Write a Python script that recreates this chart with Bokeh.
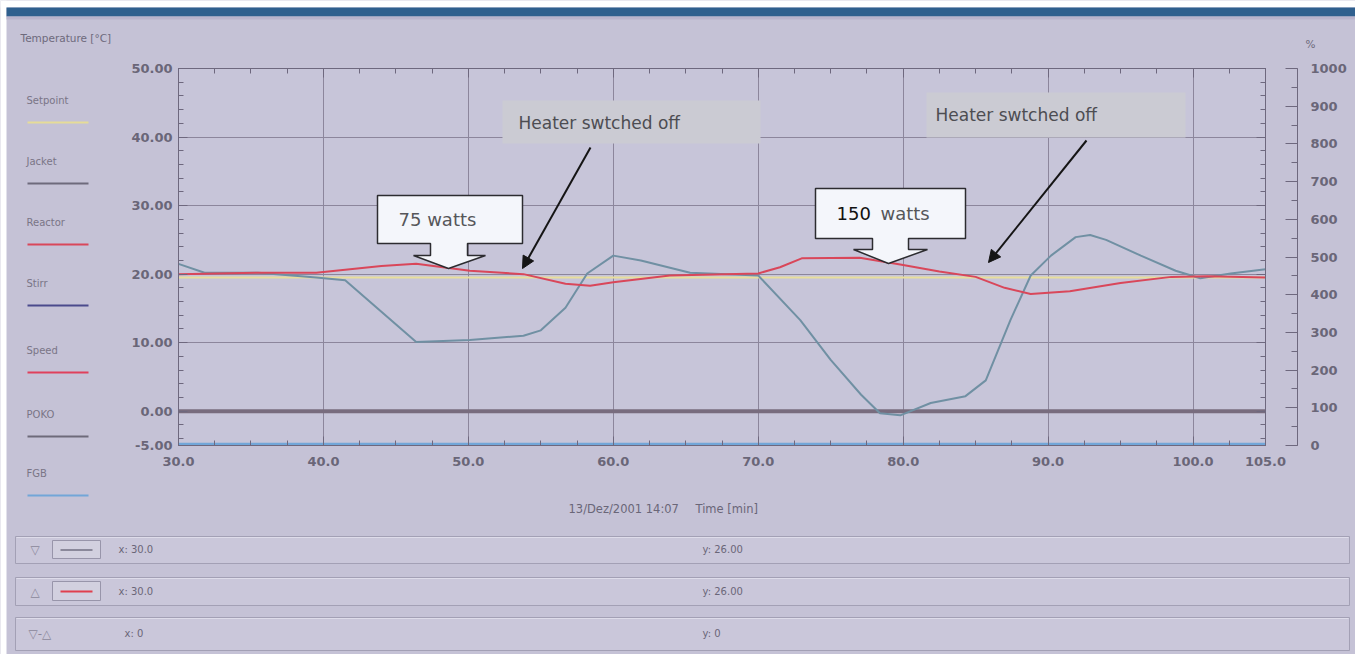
from bokeh.plotting import figure
from bokeh.models import (Range1d, LinearAxis, FixedTicker, NumeralTickFormatter, Label,
                          Arrow, NormalHead, BoxAnnotation, PolyAnnotation)
from bokeh.embed import file_html
from bokeh.resources import INLINE

# ---------------- data ----------------
time_ticks = [30, 40, 50, 60, 70, 80, 90, 100, 105]
temp_ticks = [-5, 0, 10, 20, 30, 40, 50]
pct_ticks = [0, 100, 200, 300, 400, 500, 600, 700, 800, 900, 1000]

jacket_t = [30, 31.8, 35.5, 39.5, 41.5, 46.4, 50.1, 53.8, 55, 56.7, 58.2, 60, 61.9, 65.3, 70,
            72.9, 75, 77.1, 78.4, 79.8, 81.9, 84.3, 85.7, 87.4, 88.8, 90.2, 91.9, 92.9, 94,
            96.4, 98.8, 100.5, 102.6, 105]
jacket_v = [21.5, 20.2, 20.2, 19.5, 19.1, 10.1, 10.4, 11.0, 11.8, 15.1, 20.1, 22.7, 22.0, 20.2, 19.8,
            13.3, 7.5, 2.4, -0.3, -0.6, 1.2, 2.2, 4.5, 13.3, 19.8, 22.7, 25.4, 25.7, 25.0,
            22.7, 20.5, 19.4, 20.1, 20.7]

reactor_t = [30, 35.5, 39.5, 44, 46.4, 50.1, 53.8, 56.7, 58.4, 60, 63.9, 70, 71.5, 73, 77,
             79.8, 82.5, 85, 87, 88.8, 91.5, 95, 98.5, 101, 105]
reactor_v = [20.0, 20.2, 20.2, 21.2, 21.5, 20.5, 20.0, 18.6, 18.3, 18.8, 19.8, 20.1, 21.0, 22.3, 22.4,
             21.4, 20.4, 19.6, 18.0, 17.1, 17.5, 18.7, 19.6, 19.7, 19.5]

setpoint_t = [30, 105]
setpoint_v = [19.5, 19.5]
poko_t = [30, 105]
poko_v = [0.0, 0.0]
fgb_t = [30, 105]
fgb_pct = [3, 3]

legend_names = ["Setpoint", "Jacket", "Reactor", "Stirr", "Speed", "POKO", "FGB"]
legend_colors = ["#e6dc98", "#6e6a7c", "#d9475a", "#4b4a8c", "#e0405c", "#6e6a7a", "#72a6d8"]

# ---------------- geometry ----------------
W, H = 1355, 654
FL, FR, FT, FB = 178, 1265, 68, 445   # chart box edges in page pixels
X0, X1, Y0, Y1 = 30, 105, -5, 50
P0, P1 = 0, 1000


def dx(px):
    return X0 + (px - FL) * (X1 - X0) / (FR - FL)


def dy(py):
    return Y1 - (py - FT) * (Y1 - Y0) / (FB - FT)


def to_pct(v):
    return P0 + (v - Y0) * (P1 - P0) / (Y1 - Y0)


BG = "#c5c2d6"
TXT = "#6a6678"
GRID = "#8c869c"
AX = "#6e687e"
FONT = "DejaVu Sans"

yr0, yr1 = dy(H), dy(0)
p = figure(width=W, height=H, output_backend="svg", toolbar_location=None,
           x_range=Range1d(dx(0), dx(W)), y_range=Range1d(yr0, yr1), min_border=0)
p.background_fill_color = BG
p.border_fill_color = BG
p.outline_line_color = None
p.extra_y_ranges = {"pct": Range1d(to_pct(yr0), to_pct(yr1))}

xt = FixedTicker(ticks=time_ticks, minor_ticks=[30 + 2.5 * k for k in range(31)])
yt = FixedTicker(ticks=temp_ticks, minor_ticks=list(range(-4, 51, 2)))
pt = FixedTicker(ticks=pct_ticks, minor_ticks=list(range(0, 1001, 50)))


def style_axis(ax, standoff):
    ax.axis_line_color = AX
    ax.major_tick_line_color = AX
    ax.minor_tick_line_color = AX
    ax.major_tick_in = 9
    ax.major_tick_out = 0
    ax.minor_tick_in = 5
    ax.minor_tick_out = 0
    ax.major_label_standoff = standoff
    ax.major_label_text_font = FONT
    ax.major_label_text_font_size = "13px"
    ax.major_label_text_font_style = "bold"
    ax.major_label_text_color = TXT


def box(l, t, r, b, fill, line=None, width=1, level="annotation", falpha=1):
    p.add_layout(BoxAnnotation(left=l, right=r, top=t, bottom=b, level=level,
                               fill_color=fill, fill_alpha=falpha if fill else 0,
                               line_color=line, line_width=width, line_alpha=1 if line else 0))


# plot-area background, white page edges and title bar (drawn first)
box(X0, Y1, X1, Y0, "#c7c5d9", level="image")
box(dx(0), dy(0), dx(W), dy(7), "#ffffff", level="image")
box(dx(0), dy(0), dx(6), dy(H), "#ffffff", level="image")
box(dx(6), dy(7), dx(W), dy(16), "#2f5f8e", level="image")
box(dx(6), dy(16), dx(W), dy(19), "#b9b3cc", level="image")

xa = p.xaxis[0]
xa.ticker = xt
xa.formatter = NumeralTickFormatter(format="0.0")
xa.fixed_location = Y0
xa.bounds = (X0, X1)
style_axis(xa, 11)
ya = p.yaxis[0]
ya.ticker = yt
ya.formatter = NumeralTickFormatter(format="0.00")
ya.fixed_location = X0
ya.bounds = (Y0, Y1)
style_axis(ya, 6)

grid_ok = True
try:
    p.xgrid[0].cross_bounds = (Y0, Y1)
    p.ygrid[0].cross_bounds = (X0, X1)
except Exception:
    grid_ok = False
p.xgrid.grid_line_color = GRID
p.ygrid.grid_line_color = GRID
if not grid_ok:
    p.xgrid.grid_line_color = None
    p.ygrid.grid_line_color = None
    p.segment(x0=time_ticks, y0=[Y0] * len(time_ticks), x1=time_ticks, y1=[Y1] * len(time_ticks),
              line_color=GRID, line_width=1)
    p.segment(x0=[X0] * len(temp_ticks), y0=temp_ticks, x1=[X1] * len(temp_ticks), y1=temp_ticks,
              line_color=GRID, line_width=1)

top_ax = LinearAxis(ticker=xt, major_label_text_alpha=0, fixed_location=Y1, bounds=(X0, X1))
style_axis(top_ax, 2)
p.add_layout(top_ax, "above")

edge_ax = LinearAxis(ticker=yt, major_label_text_alpha=0, fixed_location=X1, bounds=(Y0, Y1))
style_axis(edge_ax, 2)
p.add_layout(edge_ax, "right")

pct_ax = LinearAxis(y_range_name="pct", ticker=pt, fixed_location=dx(1297), bounds=(P0, P1))
style_axis(pct_ax, 13)
pct_ax.major_tick_in = 12
pct_ax.minor_tick_in = 6
p.add_layout(pct_ax, "right")

# ---------------- series ----------------
p.line(poko_t, poko_v, line_color="#786c7e", line_width=4)
p.line(fgb_t, fgb_pct, y_range_name="pct", line_color="#72a6d8", line_width=3)
p.line(setpoint_t, setpoint_v, line_color="#e8de9c", line_width=2)
p.line(jacket_t, jacket_v, line_color="#7090a3", line_width=2)
p.line(reactor_t, reactor_v, line_color="#d9475a", line_width=2)


# ---------------- decorations ----------------
def lab(px, py, text, size="11px", color=TXT, align="left", font=FONT, style="normal"):
    p.add_layout(Label(x=dx(px), y=dy(py), text=text, text_font=font, text_font_size=size,
                       text_color=color, text_align=align, text_baseline="middle",
                       text_font_style=style))


def seg(x1, y1, x2, y2, color, width=1):
    p.add_layout(Arrow(end=None, x_start=dx(x1), y_start=dy(y1), x_end=dx(x2), y_end=dy(y2),
                       line_color=color, line_width=width))


def pbox(l, t, r, b, fill, line=None, width=1):
    box(dx(l), dy(t), dx(r), dy(b), fill, line, width)


# chart outline
box(X0, Y1, X1, Y0, None, AX, 1)

lab(20, 37, "Temperature [°C]", size="10.5px", color="#6e6a7c")
lab(1305, 43, "%", size="10.5px", color="#6e6a7c")

leg_y = [100, 161, 222, 283, 350, 414, 473]
for name, col, yy in zip(legend_names, legend_colors, leg_y):
    lab(26, yy, name, size="10px", color="#7a7586")
    seg(27, yy + 22, 88, yy + 22, col, 2)

lab(568, 508, "13/Dez/2001 14:07", size="11.5px", color="#6a6678")
lab(695, 508, "Time [min]", size="11.5px", color="#6a6678")

# bottom cursor panels
rows = [(536, 563), (577, 605), (617, 650)]
for (t, b) in rows:
    pbox(15, t, 1349, b, "#cac7da", "#a3a0b5")
    seg(16, t + 1, 1348, t + 1, "#dedcea", 1)
for (t, b), col in zip(rows[:2], ["#8a889a", "#e0404e"]):
    pbox(52, t + 4, 100, b - 5, "#d2d0df", "#9895aa")
    seg(60, (t + b) / 2, 92, (t + b) / 2, col, 2)
lab(30, 549, "▽", size="12px", color="#8a879a")
lab(30, 591, "△", size="12px", color="#8a879a")
lab(28, 633, "▽-△", size="12px", color="#8a879a")
lab(118, 549, "x: 30.0", size="10px")
lab(118, 591, "x: 30.0", size="10px")
lab(124, 633, "x: 0", size="10px")
lab(702, 549, "y: 26.00", size="10px")
lab(702, 591, "y: 26.00", size="10px")
lab(702, 633, "y: 0", size="10px")


# callouts
def callout(l, t, r, b, sl, sr, hb, hl, hr, tipx, tipy):
    pts = [(l, t), (r, t), (r, b), (sr, b), (sr, hb), (hr, hb), (tipx, tipy), (hl, hb),
           (sl, hb), (sl, b), (l, b)]
    p.add_layout(PolyAnnotation(xs=[dx(a) for a, _ in pts], ys=[dy(c) for _, c in pts],
                                fill_color="#f4f6fb", fill_alpha=1, line_color="#2c2c30",
                                line_width=1.5, line_alpha=1))


callout(377, 195, 522, 243, 430, 467, 255, 413, 485, 448, 268)
lab(398, 219, "75 watts", size="18px", color="#56565a")
callout(815, 188, 965, 238, 872, 908, 249, 853, 927, 888, 263)
lab(836, 213, "150", size="18px", color="#111111")
lab(880, 213, "watts", size="18px", color="#56565a")

pbox(502, 100, 760, 143, "#cbcbd3")
lab(518, 122, "Heater swtched off", size="17px", color="#4d4d52")
pbox(926, 92, 1185, 137, "#cbcbd3")
lab(935, 114, "Heater swtched off", size="17px", color="#4d4d52")

for (x1, y1, x2, y2) in [(590, 147, 522, 268), (1086, 140, 988, 262)]:
    p.add_layout(Arrow(end=NormalHead(size=12, fill_color="#151515", line_color="#151515"),
                       x_start=dx(x1), y_start=dy(y1), x_end=dx(x2), y_end=dy(y2),
                       line_color="#151515", line_width=2))

open("out.html", "w").write(file_html(p, INLINE))
